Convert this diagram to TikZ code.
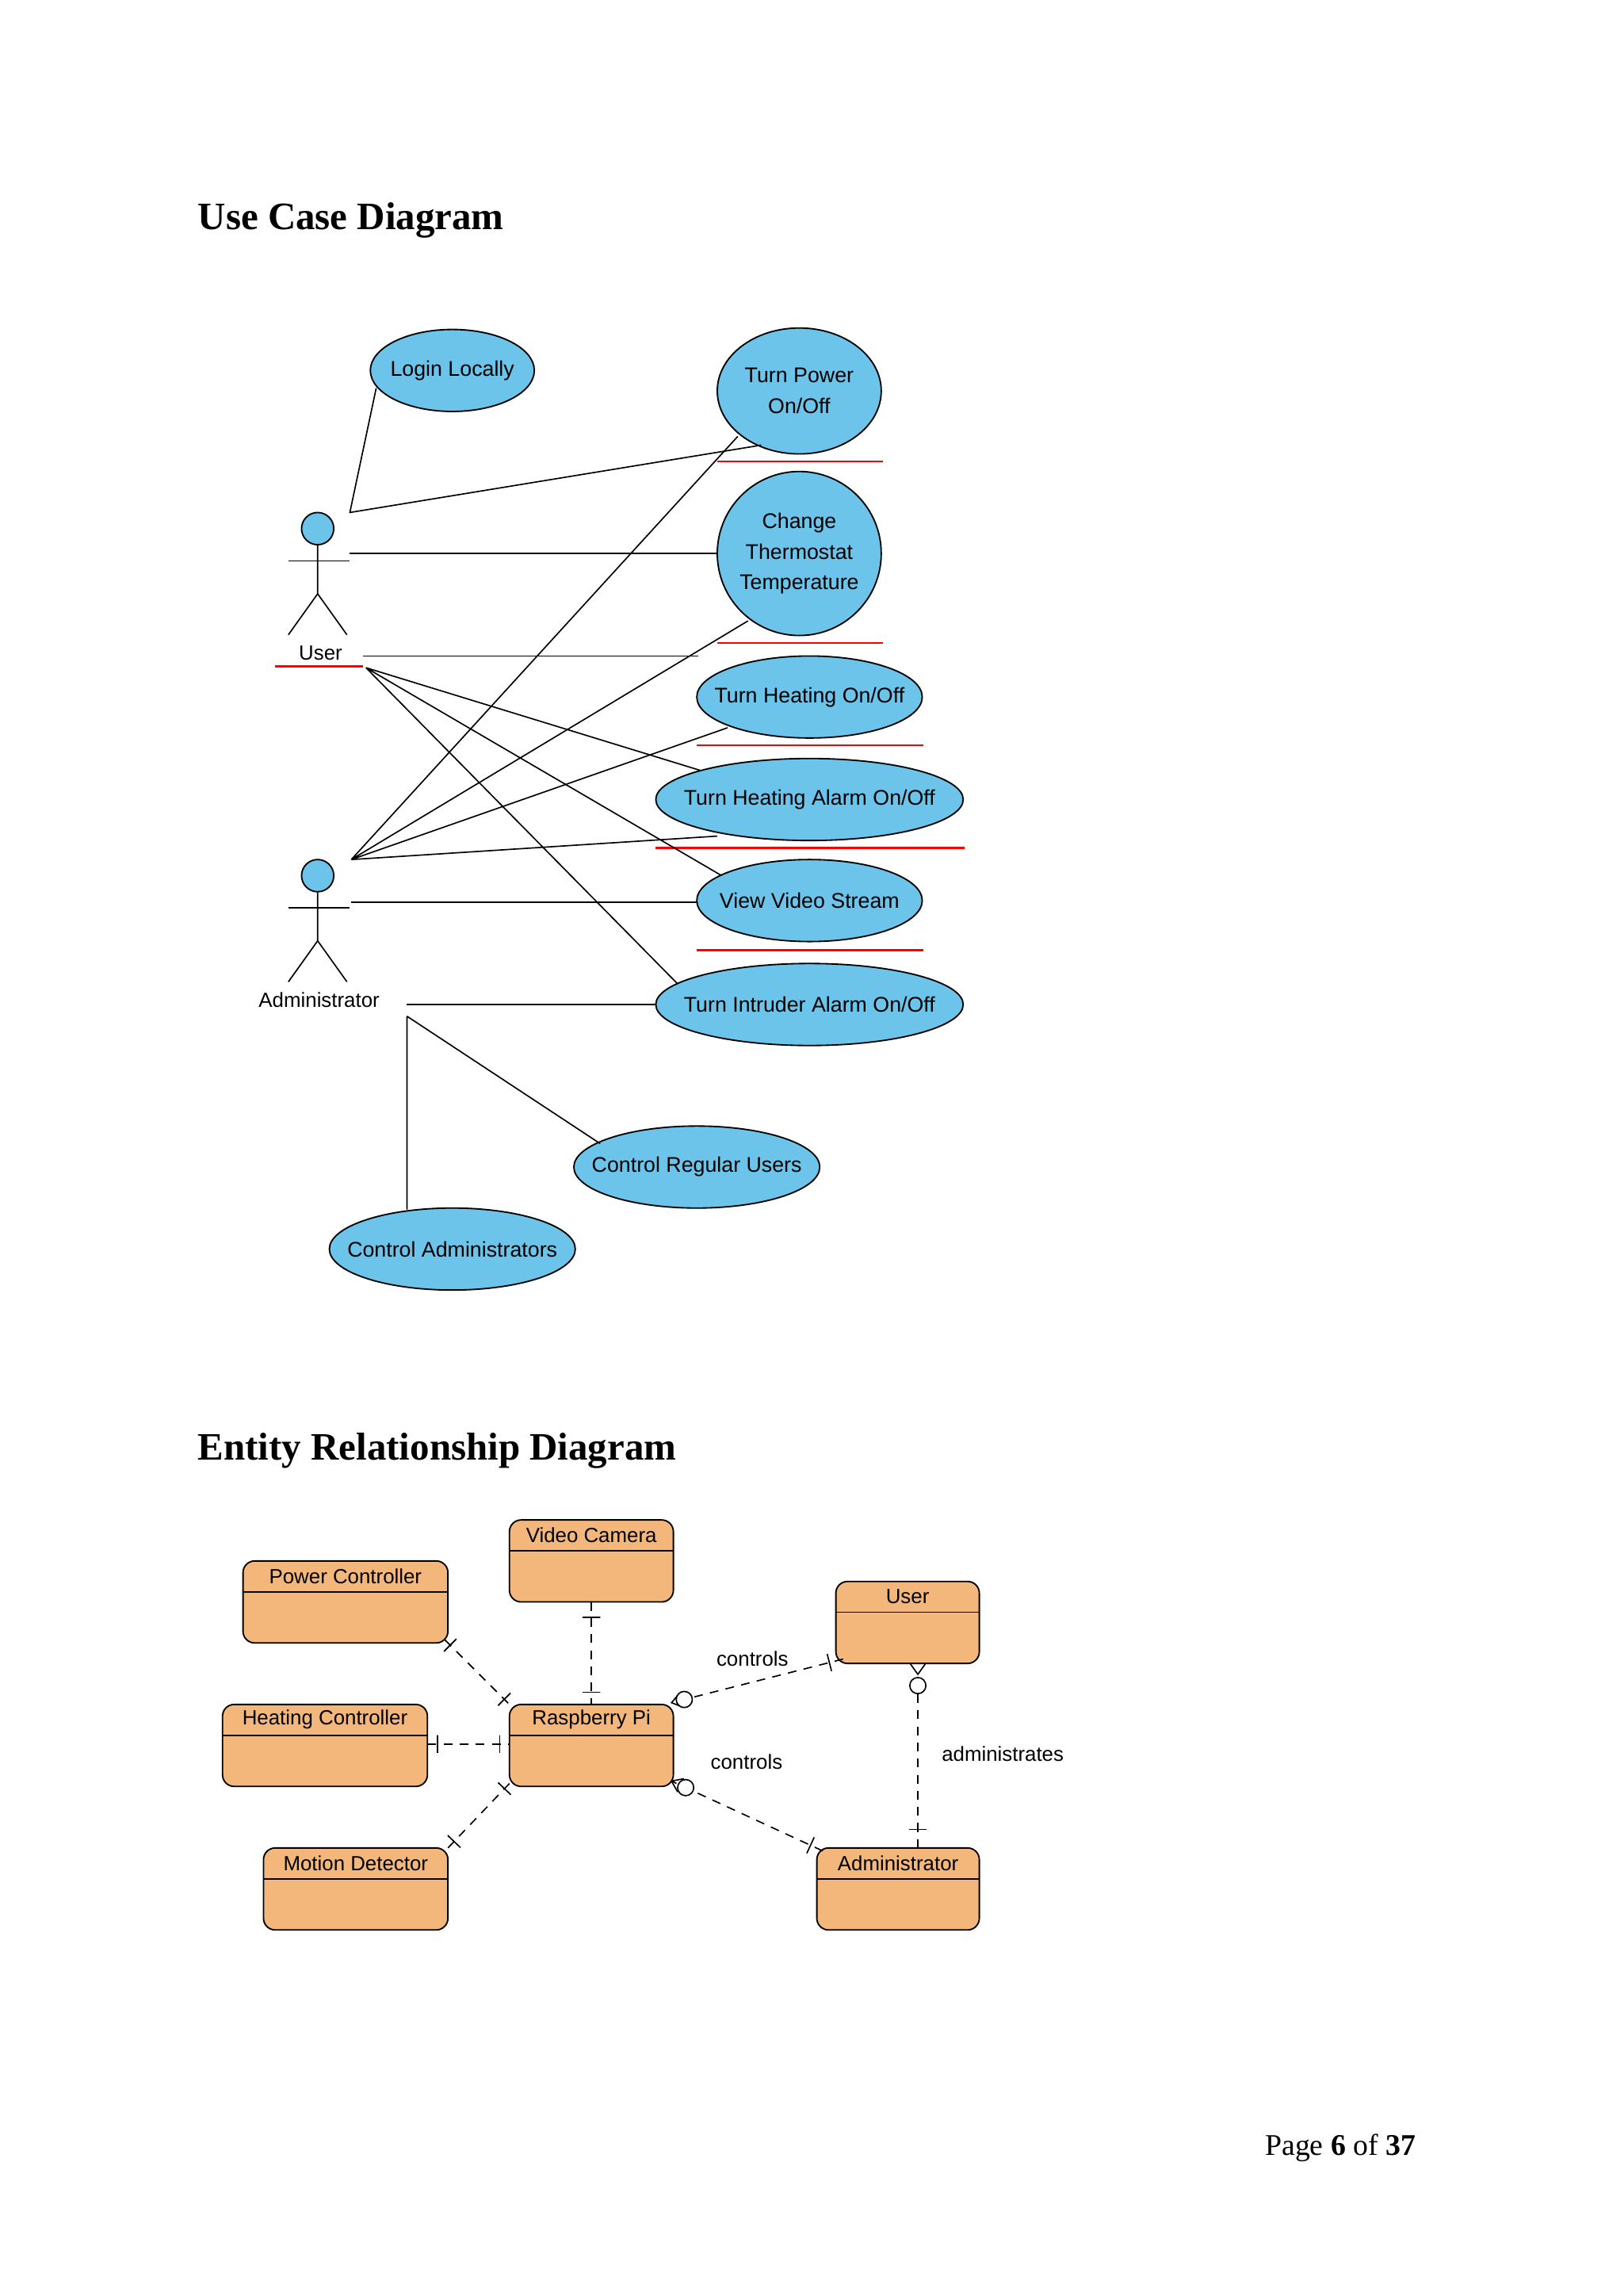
\documentclass[tikz,border=0pt]{standalone}
\usepackage{fontspec}
\setmainfont{Liberation Serif}
\newfontfamily\arial{Liberation Sans}
\usetikzlibrary{shapes.geometric,arrows.meta}
\definecolor{uc}{HTML}{6CC4EA}
\definecolor{er}{HTML}{F4B77B}
\begin{document}
\begin{tikzpicture}[x=1pt,y=-1pt,
  ucs/.style={draw,fill=uc,line width=1pt},
  uct/.style={font=\arial\fontsize{14.5}{21}\selectfont,align=center,inner sep=0pt},
  ln/.style={line width=0.9pt},
  red/.style={draw=red,line width=1.3pt},
  ent/.style={draw,fill=er,rounded corners=8pt,line width=1pt},
  et/.style={font=\arial\fontsize{14}{16}\selectfont,inner sep=0pt},
  rel/.style={line width=0.9pt,dash pattern=on 6pt off 5pt},
  bar/.style={draw,solid,inner sep=0pt,minimum width=0pt,minimum height=12pt,sloped,line width=0.9pt},
  ring/.style={draw,solid,circle,fill=white,inner sep=0pt,minimum size=11pt,line width=0.9pt},
  lab/.style={font=\arial\fontsize{14}{16}\selectfont}]
\useasboundingbox (0,0) rectangle (1109,1568);
\fill[white] (0,0) rectangle (1109,1568);
\node[anchor=base west,font=\fontsize{26.5}{30}\selectfont\bfseries,inner sep=0] (t1) at (135,157) {Use Case Diagram};
\node[anchor=base west,font=\fontsize{26.5}{30}\selectfont\bfseries,inner sep=0] (t2) at (135,997) {Entity Relationship Diagram};
\node[anchor=base west,font=\fontsize{20.5}{24}\selectfont,inner sep=0] (pg) at (864,1472) {Page \textbf{6} of \textbf{37}};
% use cases
\foreach \n/\x/\y/\rx/\ry/\t in {ll/309/253/56/28/{Login Locally},tp/546/267/56/43/{Turn Power\\On/Off},
  ct/546/378/56/56/{Change\\Thermostat\\Temperature},th/553/476/77/28/{Turn Heating On/Off},
  ha/553/546/105/28/{Turn Heating Alarm On/Off},vv/553/615/77/28/{View Video Stream},
  ia/553/686/105/28/{Turn Intruder Alarm On/Off},cr/476/797/84/28/{Control Regular Users},
  ca/309/853/84/28/{Control Administrators}}{
  \path[ucs] (\x,\y) ellipse ({\rx} and {\ry});
  \node[uct] (\n) at (\x,\y) {\t};
}
\draw[red] (490,315) -- (603,315) (490,439) -- (603,439) (476,509) -- (631,509)
  (448,579) -- (659,579) (476,649) -- (631,649) (188,455) -- (248,455);
% actors
\foreach \n/\y in {u/361,a/598}{
  \node[circle,draw,fill=uc,minimum size=22pt,inner sep=0,line width=1pt] (\n h) at (217,\y) {};
  \draw[ln] (\n h.south) -- ++(0,33) coordinate (\n w) -- ++(-20,28) (\n w) -- ++(20,28);
  \draw[ln] (197,\y+22) -- (239,\y+22);
}
\node[font=\arial\fontsize{14}{16}\selectfont] (ul) at (219,446) {User};
\node[font=\arial\fontsize{14}{16}\selectfont] (al) at (218,683) {Administrator};
% coordinates
\coordinate (l1) at (257,265);
\coordinate (u1) at (239,350); \coordinate (u2) at (239,378); \coordinate (u3) at (248,448);
\coordinate (u4) at (250,456); \coordinate (u5) at (477,448);
\coordinate (a1) at (240,587); \coordinate (a2) at (240,616); \coordinate (a3) at (278,686);
\coordinate (a4) at (278,694);
\draw[ln] (l1) -- (u1) -- (520,304);
\draw[ln] (u2) -- (490,378);
\draw[ln] (u3) -- (u5);
\draw[ln] (u4) -- (478,526) (u4) -- (493,598) (u4) -- (463,672);
\draw[ln] (a1) -- (504,298) (a1) -- (511,424) (a1) -- (497,497) (a1) -- (490,571);
\draw[ln] (a2) -- (476,616);
\draw[ln] (a3) -- (448,686);
\draw[ln] (a4) -- (410,781) (a4) -- (278,826);
% ER entities
\foreach \n/\xa/\xb/\ya/\t in {pc/166/306/1066/Power Controller,vc/348/460/1038/Video Camera,us/571/669/1080/User,
  hc/152/292/1164/Heating Controller,rp/348/460/1164/Raspberry Pi,md/180/306/1262/Motion Detector,ad/558/669/1262/Administrator}{
  \path[ent] (\xa,\ya) rectangle (\xb,\ya+56);
  \draw[line width=1pt] (\xa,\ya+21) -- (\xb,\ya+21);
  \node[et] (\n) at ({(\xa+\xb)/2},\ya+10.5) {\t};
}
\draw[rel] (304,1120) -- node[bar,pos=0.08]{} node[bar,pos=0.92]{} (348,1164);
\draw[rel] (404,1094) -- node[bar,pos=0.15]{} node[bar,pos=0.88]{} (404,1164);
\draw[rel] (292,1191) -- node[bar,pos=0.12]{} node[bar,pos=0.88]{} (348,1191);
\draw[rel] (306,1262) -- node[bar,pos=0.1]{} node[bar,pos=0.92]{} (348,1218);
\draw[rel,-{Straight Barb[length=7pt,width=10pt]}] (576,1133) -- node[bar,pos=0.08]{} node[ring,pos=0.92]{} (458,1163);
\draw[rel,-{Straight Barb[length=7pt,width=10pt]}] (562,1264) -- node[bar,pos=0.08]{} node[ring,pos=0.9]{} (458,1216);
\draw[rel,-{Straight Barb[reversed,length=7pt,width=10pt]}] (627,1262) -- node[bar,pos=0.1]{} node[ring,pos=0.88]{} (627,1136);
\node[lab] (c1) at (514,1133) {controls};
\node[lab] (c2) at (510,1203) {controls};
\node[lab] (c3) at (685,1198) {administrates};
\end{tikzpicture}
\end{document}
